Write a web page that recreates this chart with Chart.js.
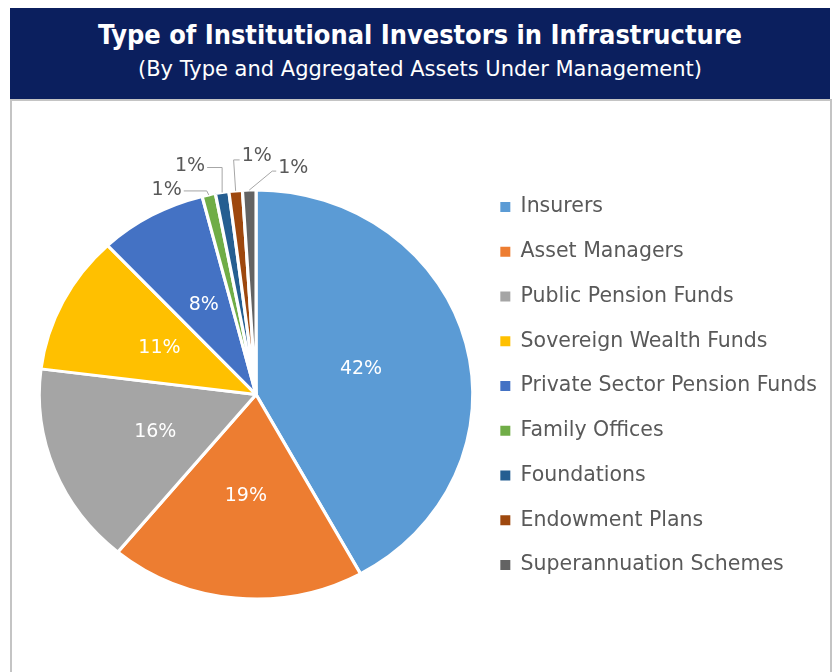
<!DOCTYPE html>
<html>
<head>
<meta charset="utf-8">
<title>Type of Institutional Investors in Infrastructure</title>
<script src="https://cdn.jsdelivr.net/npm/chart.js@4.4.1/dist/chart.umd.min.js"></script>
<style>
    html, body {
        margin: 0;
        padding: 0;
        background: #ffffff;
    }
    body {
        position: relative;
        width: 838px;
        height: 672px;
        overflow: hidden;
        font-family: 'DejaVu Sans', sans-serif;
    }
    #banner {
        position: absolute;
        left: 10px;
        top: 8px;
        width: 820px;
        height: 91px;
        background: #0b1f5e;
        color: #ffffff;
        text-align: center;
    }
    #banner .title {
        position: absolute;
        left: 0;
        right: 0;
        top: 14px;
        line-height: 1;
        font-family: 'DejaVu Sans Condensed', 'DejaVu Sans', sans-serif;
        font-stretch: condensed;
        font-weight: bold;
        font-size: 26.9px;
    }
    #banner .subtitle {
        position: absolute;
        left: 0;
        right: 0;
        top: 51px;
        line-height: 1;
        font-size: 21px;
    }
    #frame {
        position: absolute;
        left: 10px;
        top: 99px;
        width: 818px;
        height: 600px;
        border: 2px solid #c4c4c4;
    }
    #chart {
        position: absolute;
        left: 12px;
        top: 102px;
    }
</style>
</head>
<body>
<div id="banner">
    <div class="title">Type of Institutional Investors in Infrastructure</div>
    <div class="subtitle">(By Type and Aggregated Assets Under Management)</div>
</div>
<div id="frame"></div>
<canvas id="chart" width="818" height="570"></canvas>

<script>
    'use strict';

    var categories = [
        'Insurers',
        'Asset Managers',
        'Public Pension Funds',
        'Sovereign Wealth Funds',
        'Private Sector Pension Funds',
        'Family Offices',
        'Foundations',
        'Endowment Plans',
        'Superannuation Schemes'
    ];
    var shares = [42, 19, 16, 11, 8, 1, 1, 1, 1];
    var sliceColors = ['#5b9bd5', '#ed7d31', '#a5a5a5', '#ffc000', '#4472c4', '#70ad47', '#255e91', '#9e480e', '#636363'];

    // The source pie is a little wider than tall.
    var STRETCH_X = 1.06;

    // Callouts for the thin slices: [bendDx, bendDy, endDx, textAlign, textDy],
    // offsets taken from the point where the slice meets the rim.
    var callouts = {
        5: [-2, -4, -25, 'right', -1],
        6: [0, -25, -15, 'right', -1],
        7: [-2, -31, 4, 'left', -4],
        8: [23, -19, 27, 'left', -3]
    };

    var ovalPie = {
        id: 'ovalPie',
        beforeDatasetsDraw: function (chart) {
            var arc = chart.getDatasetMeta(0).data[0];
            var ctx = chart.ctx;
            ctx.save();
            ctx.translate(arc.x, arc.y);
            ctx.scale(STRETCH_X, 1);
            ctx.translate(-arc.x, -arc.y);
        },
        afterDatasetsDraw: function (chart) {
            chart.ctx.restore();
        }
    };

    var sliceLabels = {
        id: 'sliceLabels',
        afterDraw: function (chart) {
            var ctx = chart.ctx;
            var arcs = chart.getDatasetMeta(0).data;

            ctx.save();
            ctx.font = '19px "DejaVu Sans"';
            ctx.textBaseline = 'middle';

            arcs.forEach(function (arc, i) {
                var mid = (arc.startAngle + arc.endAngle) / 2;
                var cos = Math.cos(mid);
                var sin = Math.sin(mid);
                var text = shares[i] + '%';
                var c = callouts[i];

                if (!c) {
                    var r = arc.outerRadius * 0.5;
                    ctx.fillStyle = '#ffffff';
                    ctx.textAlign = 'center';
                    ctx.fillText(text, arc.x + cos * r * STRETCH_X, arc.y + sin * r);
                    return;
                }

                var ax = arc.x + cos * arc.outerRadius * STRETCH_X;
                var ay = arc.y + sin * arc.outerRadius;

                ctx.strokeStyle = '#a6a6a6';
                ctx.lineWidth = 1;
                ctx.beginPath();
                ctx.moveTo(ax, ay);
                ctx.lineTo(ax + c[0], ay + c[1]);
                ctx.lineTo(ax + c[2], ay + c[1]);
                ctx.stroke();

                ctx.fillStyle = '#595959';
                ctx.textAlign = c[3];
                ctx.fillText(text, ax + c[2] + (c[3] === 'right' ? -2 : 2), ay + c[1] + c[4]);
            });

            ctx.restore();
        }
    };

    function initInvestorChart() {
        var canvas = document.getElementById('chart');
        if (!canvas || !window.Chart) {
            return;
        }

        var baseLabels = Chart.overrides.pie.plugins.legend.labels.generateLabels;

        new Chart(canvas.getContext('2d'), {
            type: 'pie',
            data: {
                labels: categories,
                datasets: [{
                    data: shares,
                    backgroundColor: sliceColors,
                    borderColor: '#ffffff',
                    borderWidth: 3,
                    radius: 204.5
                }]
            },
            options: {
                responsive: false,
                animation: false,
                devicePixelRatio: 1,
                layout: {
                    padding: { left: 24, top: 70.5, right: 3, bottom: 55.5 }
                },
                plugins: {
                    legend: {
                        position: 'right',
                        align: 'start',
                        labels: {
                            boxWidth: 10,
                            boxHeight: 10,
                            padding: 24.25,
                            color: '#595959',
                            font: { family: 'DejaVu Sans', size: 20.5 },
                            generateLabels: function (chart) {
                                return baseLabels(chart).map(function (item) {
                                    item.lineWidth = 0;
                                    return item;
                                });
                            }
                        }
                    },
                    tooltip: { enabled: false }
                }
            },
            plugins: [ovalPie, sliceLabels]
        });
    }

    initInvestorChart();
</script>
</body>
</html>
